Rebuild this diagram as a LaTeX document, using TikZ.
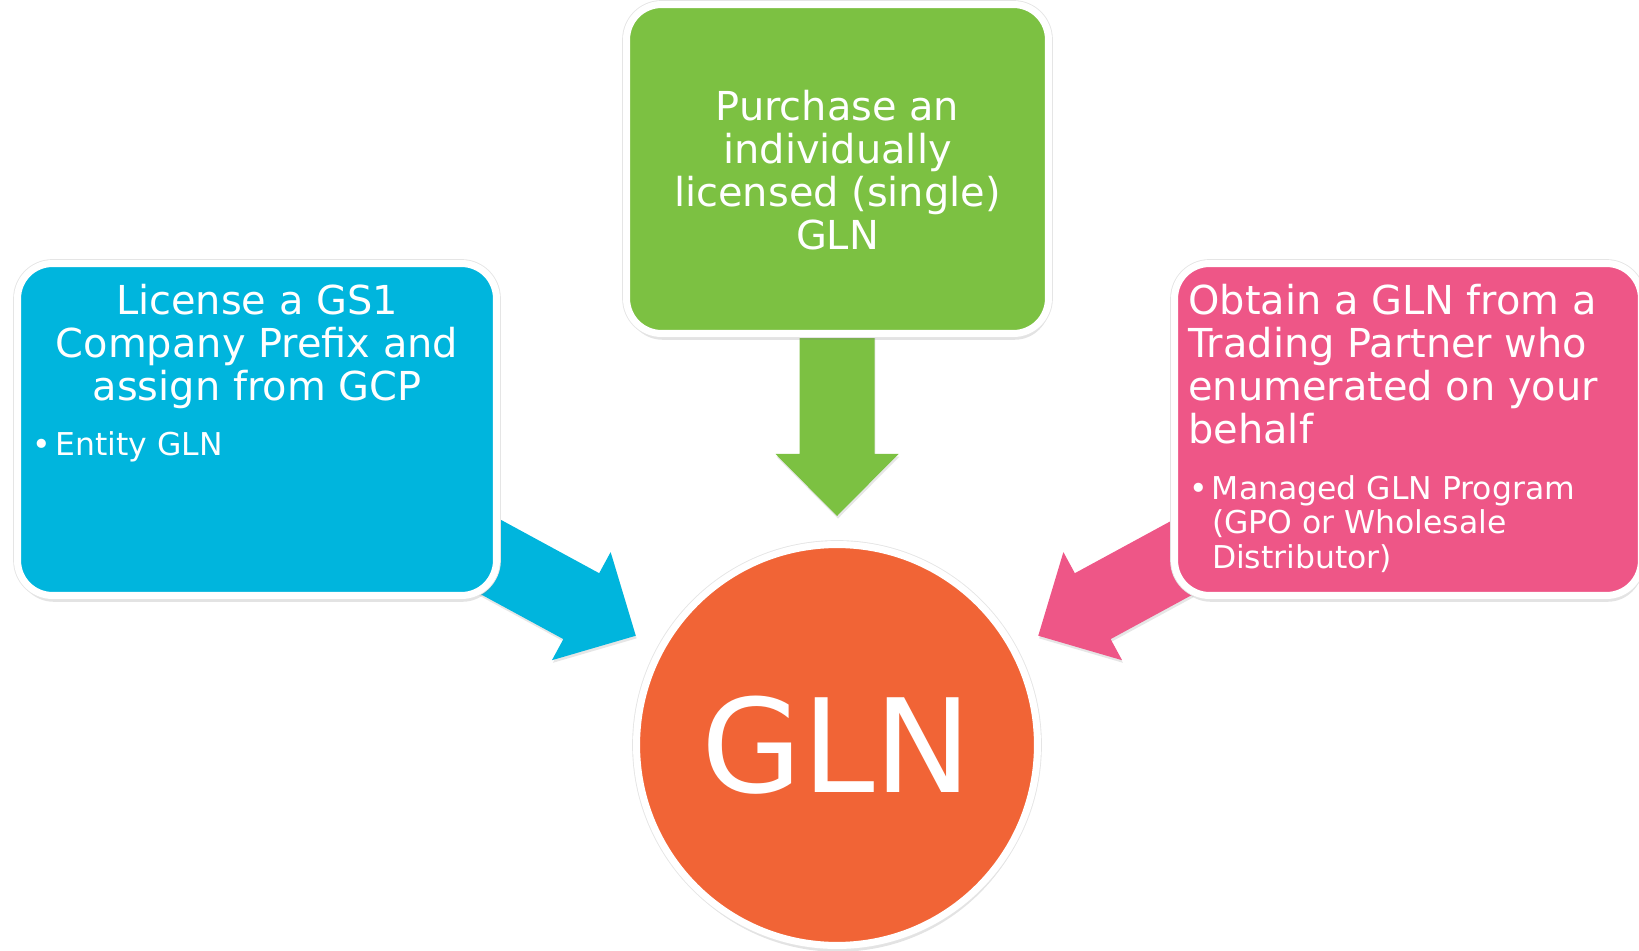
\documentclass[tikz,border=0pt]{standalone}
\usepackage{fontspec}
\setmainfont{DejaVu Sans}
\usetikzlibrary{shadows}

\definecolor{gsblue}{HTML}{00B5DD}
\definecolor{gsgreen}{HTML}{7CC142}
\definecolor{gspink}{HTML}{EE5687}
\definecolor{gsorange}{HTML}{F16436}

\tikzset{
    softshadow/.style={drop shadow={opacity=0.2, shadow xshift=0.5pt, shadow yshift=-1.5pt}},
    boxshadow/.style={drop shadow={opacity=0.22, shadow xshift=0.6pt, shadow yshift=-3.6pt},
                      preaction={draw=black!10, line width=5pt}},
    gsbox/.style={rectangle, rounded corners=0.7cm, draw=white, line width=4pt, inner sep=0pt, boxshadow},
    boxtitle/.style={text=white, inner sep=0pt, font=\fontsize{22.7}{24.6}\selectfont},
    boxbullet/.style={text=white, inner sep=0pt, font=\fontsize{17.9}{19.8}\selectfont},
}

\begin{document}
\begin{tikzpicture}[x=0.02cm, y=0.02cm]
    \useasboundingbox (0,0) rectangle (1639,950);

    % GLN
    \node[circle, fill=gsorange, draw=white, line width=4pt, minimum size=8.02cm, inner sep=0pt,
          boxshadow, text=white, font=\fontsize{74}{80}\selectfont] (gln) at (837,205) {GLN};

    % arrows
    \foreach \ang/\col in {151.5/gsblue, 90/gsgreen, 28.5/gspink} {
        \fill[\col, softshadow, shift={(gln.center)}, rotate=\ang]
            (229,0) -- (291,61.5) -- (291,37.5) -- (430,37.5) -- (430,-37.5) -- (291,-37.5) -- (291,-61.5) -- cycle;
    }

    % license
    \node[gsbox, fill=gsblue, minimum width=9.58cm, minimum height=6.64cm] (license) at (257,520.5) {};
    \node[boxtitle, align=center, anchor=north] (licensetxt) at (257,666.4)
        {License a GS1\\Company Prefix and\\assign from GCP};
    \node[boxbullet, anchor=north west] (licensebul) at (32.5,519.5)
        {\begin{tabular}{@{}l@{\hspace{2.5pt}}l@{}}\textbullet & Entity GLN\end{tabular}};

    % purchase
    \node[gsbox, fill=gsgreen, minimum width=8.44cm, minimum height=6.58cm] (purchase) at (837.5,781) {};
    \node[boxtitle, align=center, anchor=north] (purchasetxt) at (837.5,860.5)
        {Purchase an\\individually\\licensed (single)\\GLN};

    % obtain
    \node[gsbox, fill=gspink, minimum width=9.34cm, minimum height=6.64cm] (obtain) at (1408,520.5) {};
    \node[boxtitle, align=left, anchor=north west] (obtaintxt) at (1188,666.4)
        {Obtain a GLN from a\\Trading Partner who\\enumerated on your\\behalf};
    \node[boxbullet, anchor=north west] (obtainbul) at (1188.7,475.5)
        {\begin{tabular}{@{}l@{\hspace{2.5pt}}l@{}}\textbullet & Managed GLN Program\\ & (GPO or Wholesale\\ & Distributor)\end{tabular}};
\end{tikzpicture}
\end{document}
